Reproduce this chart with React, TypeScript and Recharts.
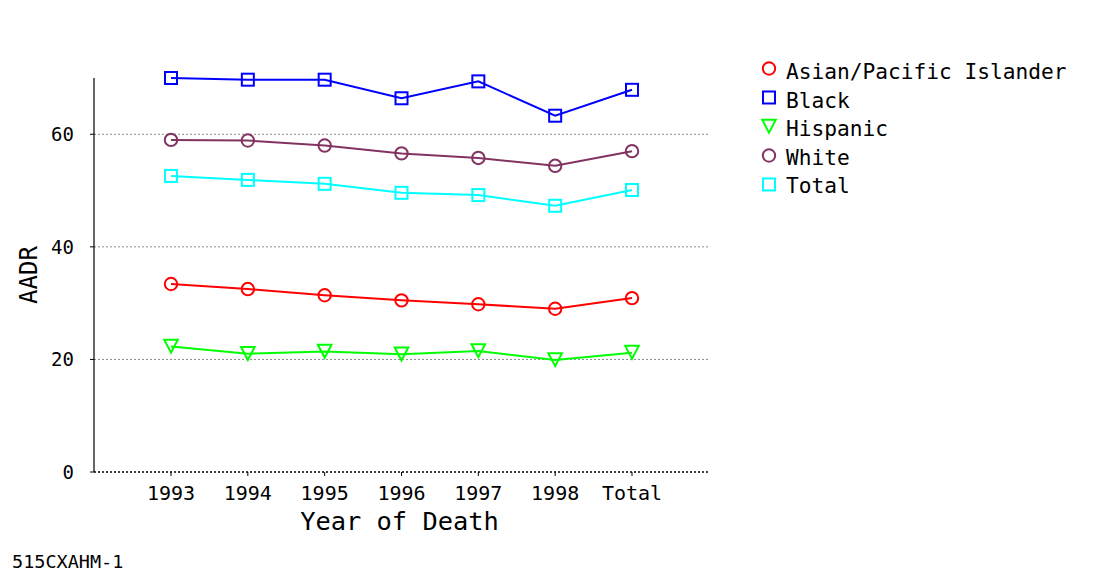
import React from 'react';
import { LineChart, Line, XAxis, YAxis, CartesianGrid, Legend, Label } from 'recharts';

const categories = ['1993', '1994', '1995', '1996', '1997', '1998', 'Total'];
const asianPacific = [33.4, 32.5, 31.4, 30.5, 29.8, 29.0, 30.9];
const black = [70.0, 69.7, 69.7, 66.4, 69.4, 63.3, 67.9];
const hispanic = [22.3, 21.0, 21.4, 20.9, 21.5, 19.9, 21.2];
const white = [59.0, 58.9, 58.0, 56.6, 55.8, 54.4, 57.0];
const total = [52.6, 51.9, 51.2, 49.6, 49.2, 47.3, 50.1];
const yTicks = [0, 20, 40, 60];
const gridValues = [20, 40, 60];

const seriesKeys = ['asian', 'black', 'hispanic', 'white', 'total'];
const seriesNames = ['Asian/Pacific Islander', 'Black', 'Hispanic', 'White', 'Total'];
const seriesColors = ['#FF0000', '#0000FF', '#00FF00', '#833360', '#00FFFF'];
const seriesShapes = ['circle', 'square', 'triangle', 'circle', 'square'];

const data = categories.map((c, i) => ({
  year: c,
  asian: asianPacific[i],
  black: black[i],
  hispanic: hispanic[i],
  white: white[i],
  total: total[i],
}));

const FONT = '"DejaVu Sans Mono", monospace';

function Marker({ shape, cx, cy, color }: { shape: string; cx: number; cy: number; color: string }) {
  if (shape === 'circle') {
    return <circle cx={cx} cy={cy} r={6.2} fill="none" stroke={color} strokeWidth={2} />;
  }
  if (shape === 'square') {
    return <rect x={cx - 6} y={cy - 6} width={12} height={12} fill="none" stroke={color} strokeWidth={2} />;
  }
  return (
    <polygon
      points={`${cx - 6.8},${cy - 6.8} ${cx + 6.8},${cy - 6.8} ${cx},${cy + 6.2}`}
      fill="none"
      stroke={color}
      strokeWidth={2}
    />
  );
}

const makeDot = (shape: string, color: string) => (props: any) => {
  const { cx, cy, index } = props;
  if (cx == null || cy == null) return <g key={`d-${index}`} />;
  return (
    <g key={`d-${shape}-${color}-${index}`}>
      <Marker shape={shape} cx={cx} cy={cy} color={color} />
    </g>
  );
};

const renderLegend = () => (
  <svg width={330} height={150} style={{ display: 'block' }}>
    {seriesNames.map((name, i) => (
      <g key={name}>
        <Marker shape={seriesShapes[i]} cx={9} cy={11.5 + i * 29} color={seriesColors[i]} />
        <text x={26} y={22 + i * 28.6} fontFamily={FONT} fontSize={21.2} fill="#000">
          {name}
        </text>
      </g>
    ))}
  </svg>
);

export default function App() {
  return (
    <div style={{ position: 'absolute', left: 0, top: 0, width: 1093, height: 581, background: '#fff' }}>
      <LineChart
        width={1093}
        height={581}
        data={data}
        margin={{ top: 78, right: 384, bottom: 0, left: 0 }}
        style={{ fontFamily: FONT }}
      >
        <CartesianGrid
          vertical={false}
          horizontalValues={gridValues}
          stroke="#888"
          strokeDasharray="2 2"
          strokeWidth={1}
        />
        <XAxis
          dataKey="year"
          height={109}
          padding={{ left: 77, right: 77 }}
          tickSize={4}
          tickMargin={10}
          axisLine={{ stroke: '#000', strokeDasharray: '2 2', strokeWidth: 1.5 }}
          tickLine={{ stroke: '#000' }}
          tick={{ fill: '#000', fontSize: 20, fontFamily: FONT }}
          interval={0}
        >
          <Label
            value="Year of Death"
            position="insideTop"
            offset={40}
            dx={-2}
            style={{ fontSize: 25.4, fontFamily: FONT, fill: '#000' }}
          />
        </XAxis>
        <YAxis
          width={94}
          domain={[0, 70]}
          ticks={yTicks}
          tickSize={4}
          tickMargin={16}
          axisLine={{ stroke: '#000', strokeWidth: 1.2 }}
          tickLine={{ stroke: '#000' }}
          tick={{ fill: '#000', fontSize: 19, fontFamily: FONT }}
        >
          <Label
            content={(props: any) => {
              const vb = props.viewBox || { x: 0, y: 78, width: 94, height: 394 };
              const x = vb.x + 29;
              const y = vb.y + vb.height / 2;
              return (
                <text
                  x={x}
                  y={y}
                  transform={`rotate(-90, ${x}, ${y})`}
                  textAnchor="middle"
                  dominantBaseline="central"
                  fontFamily={FONT}
                  fontSize={24}
                  fill="#000"
                >
                  AADR
                </text>
              );
            }}
          />
        </YAxis>
        <Legend
          layout="vertical"
          align="center"
          verticalAlign="middle"
          content={renderLegend}
          wrapperStyle={{ left: 760, top: 57, width: 330, height: 150 }}
        />
        {seriesKeys.map((k, i) => (
          <Line
            key={k}
            type="linear"
            dataKey={k}
            name={seriesNames[i]}
            stroke={seriesColors[i]}
            strokeWidth={2}
            dot={makeDot(seriesShapes[i], seriesColors[i])}
            activeDot={false}
            isAnimationActive={false}
          />
        ))}
      </LineChart>
      <div
        style={{
          position: 'absolute',
          left: 12,
          top: 551,
          fontFamily: FONT,
          fontSize: 18.5,
          color: '#000',
          lineHeight: '22px',
        }}
      >
        515CXAHM-1
      </div>
    </div>
  );
}
